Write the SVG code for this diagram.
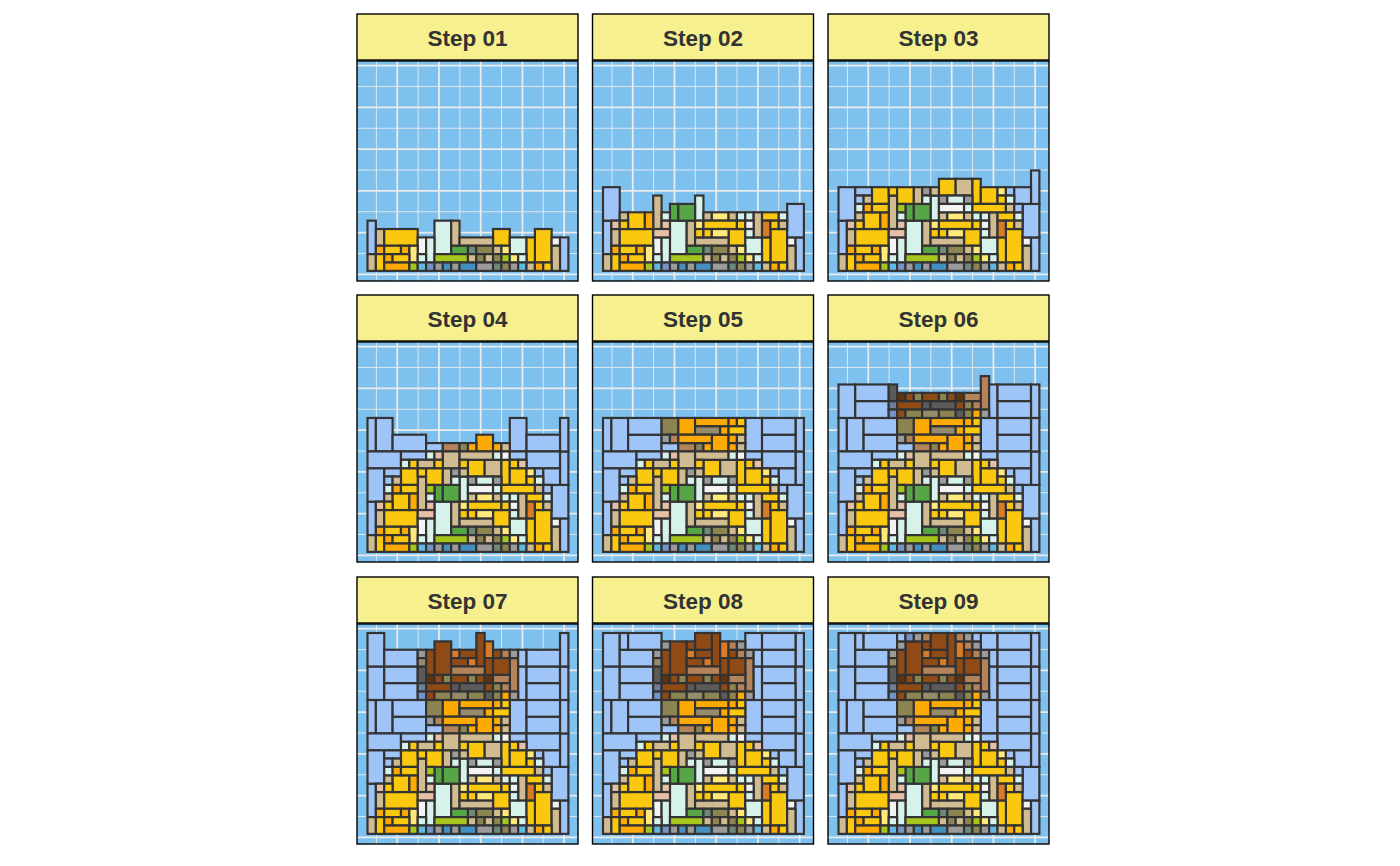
<svg xmlns="http://www.w3.org/2000/svg" xmlns:xlink="http://www.w3.org/1999/xlink" width="1400" height="866" viewBox="0 0 1400 866">
<style>
.bg{fill:#7EC0EE}
.gmaj{stroke:#EBEBEB;stroke-width:1.8}
.gmin{stroke:#EBEBEB;stroke-width:0.9}
.frame{fill:none;stroke:#000;stroke-width:1.4}
.strip{fill:#F6F08F;stroke:#000;stroke-width:1.4}
.lab{font-family:"Liberation Sans",Arial,sans-serif;font-weight:bold;font-size:22.5px;fill:#333333;text-anchor:middle}
.L{fill:#9FC5F8}.B{fill:#8F4A16}.D{fill:#5E330E}.O{fill:#DA7B26}.T{fill:#B5835A}.G{fill:#9B9B9B}.K{fill:#5B5B5B}.S{fill:#7693C8}.Z{fill:#6E7F99}.V{fill:#8C8451}.W{fill:#968B6B}.A{fill:#FDAA04}.Y{fill:#FAC90F}.N{fill:#D1BC92}.C{fill:#D6F2EA}.P{fill:#E6C0A6}.I{fill:#FEE97A}.E{fill:#F3F3F3}.R{fill:#56A646}.M{fill:#A5C61A}.U{fill:#5FB9E0}.X{fill:#4390C0}.H{fill:#6D8A78}
</style>
<defs>
<g id="grid">
<line class="gmin" x1="19.4" y1="0" x2="19.4" y2="220"/>
<line class="gmaj" x1="40.26" y1="0" x2="40.26" y2="220"/>
<line class="gmin" x1="61.12" y1="0" x2="61.12" y2="220"/>
<line class="gmaj" x1="81.98" y1="0" x2="81.98" y2="220"/>
<line class="gmin" x1="102.84" y1="0" x2="102.84" y2="220"/>
<line class="gmaj" x1="123.7" y1="0" x2="123.7" y2="220"/>
<line class="gmin" x1="144.56" y1="0" x2="144.56" y2="220"/>
<line class="gmaj" x1="165.42" y1="0" x2="165.42" y2="220"/>
<line class="gmin" x1="186.28" y1="0" x2="186.28" y2="220"/>
<line class="gmaj" x1="207.14" y1="0" x2="207.14" y2="220"/>
<line class="gmaj" x1="0" y1="4.7" x2="221" y2="4.7"/>
<line class="gmin" x1="0" y1="25.56" x2="221" y2="25.56"/>
<line class="gmaj" x1="0" y1="46.42" x2="221" y2="46.42"/>
<line class="gmin" x1="0" y1="67.28" x2="221" y2="67.28"/>
<line class="gmaj" x1="0" y1="88.14" x2="221" y2="88.14"/>
<line class="gmin" x1="0" y1="109" x2="221" y2="109"/>
<line class="gmaj" x1="0" y1="129.86" x2="221" y2="129.86"/>
<line class="gmin" x1="0" y1="150.72" x2="221" y2="150.72"/>
<line class="gmaj" x1="0" y1="171.58" x2="221" y2="171.58"/>
<line class="gmin" x1="0" y1="192.44" x2="221" y2="192.44"/>
<line class="gmaj" x1="0" y1="213.3" x2="221" y2="213.3"/>
</g>
<g id="b1" stroke="#333333" stroke-width="0.26">
<rect class="L" x="0" y="18" width="1" height="4"/><rect class="C" x="8" y="18" width="2" height="4"/><rect class="N" x="10" y="18" width="1" height="3"/>
<rect class="N" x="1" y="19" width="1" height="2"/><rect class="Y" x="2" y="19" width="4" height="2"/><rect class="Y" x="15" y="19" width="2" height="2"/><rect class="Y" x="20" y="19" width="2" height="4"/>
<rect class="E" x="6" y="20" width="1" height="2"/><rect class="C" x="7" y="20" width="1" height="3"/><rect class="N" x="11" y="20" width="4" height="1"/><rect class="C" x="17" y="20" width="2" height="2"/><rect class="Y" x="19" y="20" width="1" height="3"/><rect class="E" x="22" y="20" width="1" height="1"/><rect class="L" x="23" y="20" width="1" height="4"/>
<rect class="A" x="1" y="21" width="1" height="1"/><rect class="Y" x="2" y="21" width="2" height="1"/><rect class="A" x="4" y="21" width="1" height="1"/><rect class="I" x="5" y="21" width="1" height="2"/><rect class="R" x="10" y="21" width="2" height="1"/><rect class="H" x="12" y="21" width="1" height="1"/><rect class="V" x="13" y="21" width="2" height="1"/><rect class="N" x="15" y="21" width="1" height="1"/><rect class="I" x="16" y="21" width="1" height="1"/><rect class="N" x="22" y="21" width="1" height="3"/>
<rect class="N" x="0" y="22" width="1" height="2"/><rect class="Y" x="1" y="22" width="1" height="2"/><rect class="A" x="2" y="22" width="1" height="1"/><rect class="Y" x="3" y="22" width="2" height="1"/><rect class="C" x="6" y="22" width="1" height="1"/><rect class="M" x="8" y="22" width="4" height="1"/><rect class="N" x="12" y="22" width="1" height="1"/><rect class="V" x="13" y="22" width="1" height="1"/><rect class="N" x="14" y="22" width="1" height="1"/><rect class="V" x="15" y="22" width="1" height="1"/><rect class="M" x="16" y="22" width="1" height="1"/><rect class="I" x="17" y="22" width="1" height="1"/><rect class="C" x="18" y="22" width="1" height="1"/>
<rect class="A" x="2" y="23" width="3" height="1"/><rect class="M" x="5" y="23" width="1" height="1"/><rect class="U" x="6" y="23" width="1" height="1"/><rect class="S" x="7" y="23" width="1" height="1"/><rect class="G" x="8" y="23" width="1" height="1"/><rect class="X" x="9" y="23" width="1" height="1"/><rect class="G" x="10" y="23" width="1" height="1"/><rect class="X" x="11" y="23" width="2" height="1"/><rect class="G" x="13" y="23" width="2" height="1"/><rect class="H" x="15" y="23" width="1" height="1"/><rect class="V" x="16" y="23" width="1" height="1"/><rect class="G" x="17" y="23" width="1" height="1"/><rect class="U" x="18" y="23" width="1" height="1"/><rect class="N" x="19" y="23" width="1" height="1"/><rect class="A" x="20" y="23" width="1" height="1"/><rect class="Y" x="21" y="23" width="1" height="1"/>
</g>
<g id="b2" stroke="#333333" stroke-width="0.26">
<rect class="L" x="0" y="14" width="2" height="4"/><rect class="N" x="6" y="15" width="1" height="4"/><rect class="C" x="11" y="15" width="1" height="3"/><rect class="R" x="8" y="16" width="1" height="2"/><rect class="R" x="9" y="16" width="2" height="2"/><rect class="L" x="22" y="16" width="2" height="4"/>
<rect class="N" x="2" y="17" width="1" height="1"/><rect class="Y" x="3" y="17" width="2" height="2"/><rect class="A" x="5" y="17" width="1" height="2"/><rect class="C" x="7" y="17" width="1" height="1"/><rect class="N" x="12" y="17" width="1" height="1"/><rect class="I" x="13" y="17" width="2" height="1"/><rect class="N" x="15" y="17" width="1" height="1"/><rect class="C" x="16" y="17" width="1" height="1"/><rect class="C" x="17" y="17" width="1" height="1"/><rect class="N" x="18" y="17" width="1" height="3"/><rect class="Y" x="19" y="17" width="2" height="1"/><rect class="C" x="21" y="17" width="1" height="1"/>
<rect class="P" x="1" y="18" width="1" height="1"/><rect class="Y" x="2" y="18" width="1" height="1"/><rect class="P" x="7" y="18" width="1" height="1"/><rect class="I" x="11" y="18" width="1" height="1"/><rect class="Y" x="12" y="18" width="4" height="1"/><rect class="Y" x="16" y="18" width="1" height="1"/><rect class="E" x="17" y="18" width="1" height="1"/><rect class="O" x="19" y="18" width="1" height="2"/><rect class="Y" x="20" y="18" width="1" height="1"/><rect class="N" x="21" y="18" width="1" height="1"/>
<rect class="P" x="6" y="19" width="2" height="1"/><rect class="Y" x="11" y="19" width="1" height="1"/><rect class="Y" x="12" y="19" width="1" height="1"/><rect class="I" x="13" y="19" width="2" height="1"/><rect class="C" x="17" y="19" width="1" height="1"/>
</g>
<g id="b3" stroke="#333333" stroke-width="0.26">
<rect class="L" x="23" y="12" width="1" height="4"/><rect class="Y" x="12" y="13" width="2" height="2"/><rect class="N" x="14" y="13" width="2" height="2"/><rect class="Y" x="16" y="13" width="1" height="3"/>
<rect class="L" x="2" y="14" width="2" height="1"/><rect class="Y" x="4" y="14" width="2" height="2"/><rect class="Y" x="6" y="14" width="1" height="1"/><rect class="Y" x="7" y="14" width="2" height="2"/><rect class="N" x="9" y="14" width="1" height="2"/><rect class="G" x="10" y="14" width="1" height="1"/><rect class="N" x="11" y="14" width="1" height="1"/><rect class="Y" x="17" y="14" width="2" height="2"/><rect class="I" x="19" y="14" width="1" height="1"/><rect class="L" x="20" y="14" width="1" height="1"/><rect class="L" x="21" y="14" width="2" height="2"/>
<rect class="L" x="2" y="15" width="1" height="1"/><rect class="N" x="3" y="15" width="1" height="1"/><rect class="C" x="10" y="15" width="1" height="1"/><rect class="G" x="12" y="15" width="1" height="1"/><rect class="C" x="13" y="15" width="2" height="1"/><rect class="G" x="15" y="15" width="1" height="1"/><rect class="Y" x="19" y="15" width="1" height="1"/><rect class="C" x="20" y="15" width="1" height="1"/>
<rect class="C" x="2" y="16" width="1" height="1"/><rect class="A" x="3" y="16" width="1" height="1"/><rect class="Y" x="4" y="16" width="2" height="1"/><rect class="M" x="7" y="16" width="1" height="1"/><rect class="E" x="12" y="16" width="3" height="1"/><rect class="C" x="15" y="16" width="1" height="1"/><rect class="Y" x="16" y="16" width="4" height="1"/><rect class="N" x="20" y="16" width="1" height="1"/><rect class="L" x="21" y="16" width="1" height="1"/>
</g>
<g id="b4" stroke="#333333" stroke-width="0.26">
<rect class="L" x="0" y="8" width="1" height="4"/><rect class="L" x="1" y="8" width="2" height="4"/><rect class="L" x="17" y="8" width="2" height="4"/><rect class="L" x="23" y="8" width="1" height="4"/><rect class="L" x="3" y="10" width="4" height="2"/><rect class="A" x="13" y="10" width="2" height="2"/><rect class="L" x="19" y="10" width="4" height="2"/>
<rect class="L" x="7" y="11" width="2" height="1"/><rect class="T" x="9" y="11" width="2" height="1"/><rect class="V" x="11" y="11" width="1" height="1"/><rect class="A" x="12" y="11" width="1" height="1"/><rect class="A" x="15" y="11" width="1" height="1"/><rect class="N" x="16" y="11" width="1" height="1"/>
<rect class="L" x="0" y="12" width="4" height="2"/><rect class="L" x="4" y="12" width="3" height="1"/><rect class="C" x="7" y="12" width="1" height="1"/><rect class="P" x="8" y="12" width="1" height="1"/><rect class="N" x="9" y="12" width="2" height="2"/><rect class="N" x="11" y="12" width="4" height="1"/><rect class="C" x="15" y="12" width="1" height="1"/><rect class="E" x="16" y="12" width="1" height="1"/><rect class="L" x="17" y="12" width="2" height="1"/><rect class="L" x="19" y="12" width="4" height="2"/>
<rect class="C" x="4" y="13" width="1" height="1"/><rect class="Y" x="5" y="13" width="1" height="1"/><rect class="N" x="6" y="13" width="2" height="1"/><rect class="Y" x="8" y="13" width="1" height="1"/><rect class="Y" x="11" y="13" width="1" height="1"/><rect class="Y" x="17" y="13" width="1" height="1"/><rect class="P" x="18" y="13" width="1" height="1"/>
</g>
<g id="b5" stroke="#333333" stroke-width="0.26">
<rect class="L" x="3" y="8" width="4" height="2"/><rect class="V" x="7" y="8" width="2" height="2"/><rect class="A" x="9" y="8" width="2" height="2"/><rect class="A" x="11" y="8" width="4" height="1"/><rect class="A" x="15" y="8" width="1" height="1"/><rect class="Y" x="16" y="8" width="1" height="1"/><rect class="L" x="19" y="8" width="4" height="2"/>
<rect class="W" x="11" y="9" width="3" height="1"/><rect class="A" x="14" y="9" width="1" height="1"/><rect class="Y" x="15" y="9" width="2" height="1"/>
<rect class="G" x="7" y="10" width="1" height="1"/><rect class="T" x="8" y="10" width="1" height="1"/><rect class="A" x="9" y="10" width="4" height="1"/><rect class="A" x="15" y="10" width="1" height="1"/><rect class="N" x="16" y="10" width="1" height="1"/>
</g>
<g id="b6" stroke="#333333" stroke-width="0.26">
<rect class="T" x="17" y="3" width="1" height="4"/><rect class="L" x="0" y="4" width="2" height="4"/><rect class="L" x="2" y="4" width="4" height="2"/><rect class="K" x="6" y="4" width="1" height="2"/><rect class="L" x="18" y="4" width="1" height="4"/><rect class="L" x="19" y="4" width="4" height="2"/><rect class="L" x="23" y="4" width="1" height="4"/>
<rect class="D" x="7" y="5" width="1" height="1"/><rect class="B" x="8" y="5" width="1" height="1"/><rect class="V" x="9" y="5" width="1" height="1"/><rect class="B" x="10" y="5" width="2" height="1"/><rect class="V" x="12" y="5" width="1" height="1"/><rect class="B" x="13" y="5" width="1" height="1"/><rect class="D" x="14" y="5" width="1" height="1"/><rect class="T" x="15" y="5" width="2" height="1"/>
<rect class="L" x="2" y="6" width="4" height="2"/><rect class="Z" x="6" y="6" width="1" height="1"/><rect class="B" x="7" y="6" width="3" height="1"/><rect class="K" x="10" y="6" width="1" height="1"/><rect class="K" x="11" y="6" width="3" height="1"/><rect class="B" x="14" y="6" width="1" height="1"/><rect class="V" x="15" y="6" width="1" height="1"/><rect class="T" x="16" y="6" width="1" height="1"/><rect class="L" x="19" y="6" width="4" height="2"/>
<rect class="S" x="6" y="7" width="1" height="1"/><rect class="B" x="7" y="7" width="1" height="1"/><rect class="V" x="8" y="7" width="2" height="1"/><rect class="W" x="10" y="7" width="2" height="1"/><rect class="V" x="12" y="7" width="2" height="1"/><rect class="K" x="14" y="7" width="1" height="1"/><rect class="V" x="15" y="7" width="1" height="1"/><rect class="A" x="16" y="7" width="1" height="1"/><rect class="G" x="17" y="7" width="1" height="1"/>
</g>
<g id="b7" stroke="#333333" stroke-width="0.26">
<rect class="L" x="0" y="0" width="2" height="4"/><rect class="B" x="13" y="0" width="1" height="4"/><rect class="L" x="23" y="0" width="1" height="4"/><rect class="B" x="8" y="1" width="2" height="4"/><rect class="O" x="14" y="1" width="1" height="2"/>
<rect class="L" x="2" y="2" width="4" height="2"/><rect class="G" x="6" y="2" width="1" height="1"/><rect class="B" x="7" y="2" width="1" height="3"/><rect class="O" x="10" y="2" width="1" height="1"/><rect class="B" x="11" y="2" width="2" height="1"/><rect class="B" x="15" y="2" width="1" height="1"/><rect class="T" x="16" y="2" width="1" height="1"/><rect class="G" x="17" y="2" width="1" height="1"/><rect class="L" x="18" y="2" width="1" height="2"/><rect class="L" x="19" y="2" width="4" height="2"/>
<rect class="W" x="6" y="3" width="1" height="1"/><rect class="B" x="10" y="3" width="2" height="1"/><rect class="O" x="12" y="3" width="1" height="1"/><rect class="B" x="14" y="3" width="1" height="2"/><rect class="B" x="15" y="3" width="2" height="2"/>
<rect class="T" x="10" y="4" width="4" height="1"/>
</g>
<g id="b8" stroke="#333333" stroke-width="0.26">
<rect class="L" x="2" y="0" width="1" height="2"/><rect class="L" x="3" y="0" width="4" height="2"/><rect class="B" x="11" y="0" width="2" height="2"/><rect class="L" x="17" y="0" width="2" height="2"/><rect class="L" x="19" y="0" width="4" height="2"/><rect class="G" x="7" y="1" width="1" height="1"/><rect class="B" x="10" y="1" width="1" height="1"/><rect class="T" x="15" y="1" width="1" height="1"/><rect class="G" x="16" y="1" width="1" height="1"/>
</g>
<g id="b9" stroke="#333333" stroke-width="0.26">
<rect class="L" x="7" y="0" width="1" height="1"/><rect class="S" x="8" y="0" width="1" height="1"/><rect class="G" x="9" y="0" width="1" height="1"/><rect class="T" x="10" y="0" width="1" height="1"/><rect class="T" x="14" y="0" width="1" height="1"/><rect class="G" x="15" y="0" width="1" height="1"/><rect class="L" x="16" y="0" width="1" height="1"/>
</g>
</defs>

<g id="step01" transform="translate(357,61)">
<rect class="strip" x="0" y="-47" width="221" height="46"/><text class="lab" x="110.5" y="-15">Step 01</text>
<rect class="bg" width="221" height="220"/><use href="#grid"/>
<g transform="translate(10.5,9) scale(8.37)"><use href="#b1"/></g>
<rect class="frame" width="221" height="220"/>
</g>
<g id="step02" transform="translate(592.5,61)">
<rect class="strip" x="0" y="-47" width="221" height="46"/><text class="lab" x="110.5" y="-15">Step 02</text>
<rect class="bg" width="221" height="220"/><use href="#grid"/>
<g transform="translate(10.5,9) scale(8.37)"><use href="#b1"/><use href="#b2"/></g>
<rect class="frame" width="221" height="220"/>
</g>
<g id="step03" transform="translate(828,61)">
<rect class="strip" x="0" y="-47" width="221" height="46"/><text class="lab" x="110.5" y="-15">Step 03</text>
<rect class="bg" width="221" height="220"/><use href="#grid"/>
<g transform="translate(10.5,9) scale(8.37)"><use href="#b1"/><use href="#b2"/><use href="#b3"/></g>
<rect class="frame" width="221" height="220"/>
</g>
<g id="step04" transform="translate(357,342)">
<rect class="strip" x="0" y="-47" width="221" height="46"/><text class="lab" x="110.5" y="-15">Step 04</text>
<rect class="bg" width="221" height="220"/><use href="#grid"/>
<g transform="translate(10.5,9) scale(8.37)"><use href="#b1"/><use href="#b2"/><use href="#b3"/><use href="#b4"/></g>
<rect class="frame" width="221" height="220"/>
</g>
<g id="step05" transform="translate(592.5,342)">
<rect class="strip" x="0" y="-47" width="221" height="46"/><text class="lab" x="110.5" y="-15">Step 05</text>
<rect class="bg" width="221" height="220"/><use href="#grid"/>
<g transform="translate(10.5,9) scale(8.37)"><use href="#b1"/><use href="#b2"/><use href="#b3"/><use href="#b4"/><use href="#b5"/></g>
<rect class="frame" width="221" height="220"/>
</g>
<g id="step06" transform="translate(828,342)">
<rect class="strip" x="0" y="-47" width="221" height="46"/><text class="lab" x="110.5" y="-15">Step 06</text>
<rect class="bg" width="221" height="220"/><use href="#grid"/>
<g transform="translate(10.5,9) scale(8.37)"><use href="#b1"/><use href="#b2"/><use href="#b3"/><use href="#b4"/><use href="#b5"/><use href="#b6"/></g>
<rect class="frame" width="221" height="220"/>
</g>
<g id="step07" transform="translate(357,624)">
<rect class="strip" x="0" y="-47" width="221" height="46"/><text class="lab" x="110.5" y="-15">Step 07</text>
<rect class="bg" width="221" height="220"/><use href="#grid"/>
<g transform="translate(10.5,9) scale(8.37)"><use href="#b1"/><use href="#b2"/><use href="#b3"/><use href="#b4"/><use href="#b5"/><use href="#b6"/><use href="#b7"/></g>
<rect class="frame" width="221" height="220"/>
</g>
<g id="step08" transform="translate(592.5,624)">
<rect class="strip" x="0" y="-47" width="221" height="46"/><text class="lab" x="110.5" y="-15">Step 08</text>
<rect class="bg" width="221" height="220"/><use href="#grid"/>
<g transform="translate(10.5,9) scale(8.37)"><use href="#b1"/><use href="#b2"/><use href="#b3"/><use href="#b4"/><use href="#b5"/><use href="#b6"/><use href="#b7"/><use href="#b8"/></g>
<rect class="frame" width="221" height="220"/>
</g>
<g id="step09" transform="translate(828,624)">
<rect class="strip" x="0" y="-47" width="221" height="46"/><text class="lab" x="110.5" y="-15">Step 09</text>
<rect class="bg" width="221" height="220"/><use href="#grid"/>
<g transform="translate(10.5,9) scale(8.37)"><use href="#b1"/><use href="#b2"/><use href="#b3"/><use href="#b4"/><use href="#b5"/><use href="#b6"/><use href="#b7"/><use href="#b8"/><use href="#b9"/></g>
<rect class="frame" width="221" height="220"/>
</g>
</svg>
